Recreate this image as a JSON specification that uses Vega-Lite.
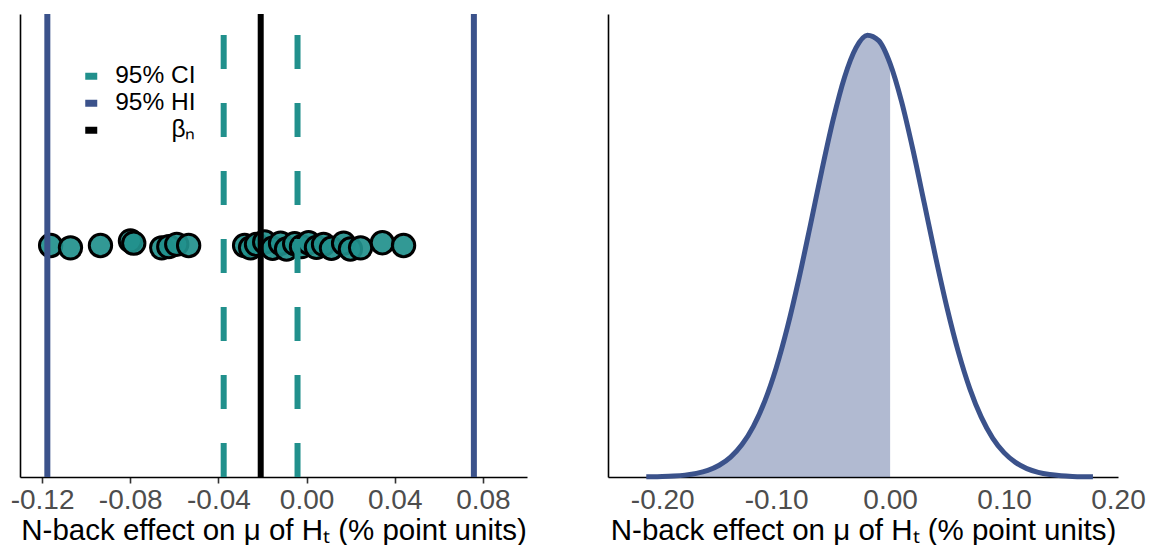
{
  "$schema": "https://vega.github.io/schema/vega-lite/v6.json",
  "padding": {"left": 10, "top": 11, "right": 0, "bottom": 0},
  "background": "white",
  "spacing": 81,
  "config": {
    "view": {"stroke": null},
    "font": "Liberation Sans",
    "axis": {"grid": false, "domainColor": "black", "domainWidth": 1.6, "labelFont": "Liberation Sans", "titleFont": "Liberation Sans"},
    "axisY": {"minExtent": 0},
    "axisX": {"minExtent": 0}
  },
  "datasets": {
    "pts": [
      {"x": -0.1161, "y": 0}, {"x": -0.1071, "y": -0.01}, {"x": -0.0935, "y": 0},
      {"x": -0.0799, "y": 0.02}, {"x": -0.0784, "y": 0.01}, {"x": -0.0657, "y": -0.01},
      {"x": -0.0625, "y": -0.005}, {"x": -0.0589, "y": 0.005}, {"x": -0.0535, "y": 0},
      {"x": -0.0281, "y": 0}, {"x": -0.0254, "y": -0.01}, {"x": -0.0227, "y": 0.005},
      {"x": -0.0190, "y": 0.015}, {"x": -0.0154, "y": -0.012}, {"x": -0.0118, "y": 0.01},
      {"x": -0.0091, "y": -0.015}, {"x": -0.0054, "y": 0.008}, {"x": -0.0023, "y": -0.005},
      {"x": 0.0009, "y": 0.012}, {"x": 0.0045, "y": -0.008}, {"x": 0.0077, "y": 0.005},
      {"x": 0.0113, "y": -0.012}, {"x": 0.0168, "y": 0.01}, {"x": 0.0199, "y": -0.015},
      {"x": 0.0245, "y": -0.01}, {"x": 0.0344, "y": 0.012}, {"x": 0.0440, "y": 0}
    ],
    "lines": [
      {"type": "95% CI", "x": -0.0376},
      {"type": "95% CI", "x": -0.0041},
      {"type": "95% HI", "x": -0.1176},
      {"type": "95% HI", "x": 0.0759},
      {"type": "βₙ", "x": -0.0208}
    ],
    "dens": [
      {"x": -0.214, "d": 0.000335}, {"x": -0.21, "d": 0.000464}, {"x": -0.20, "d": 0.00101},
      {"x": -0.19, "d": 0.002111}, {"x": -0.18, "d": 0.004233}, {"x": -0.17, "d": 0.00814},
      {"x": -0.16, "d": 0.01501}, {"x": -0.15, "d": 0.02655}, {"x": -0.14, "d": 0.04505},
      {"x": -0.13, "d": 0.0734}, {"x": -0.12, "d": 0.1146}, {"x": -0.11, "d": 0.1716},
      {"x": -0.10, "d": 0.2466}, {"x": -0.09, "d": 0.3398}, {"x": -0.08, "d": 0.4491},
      {"x": -0.07, "d": 0.5695}, {"x": -0.06, "d": 0.6926}, {"x": -0.05, "d": 0.808},
      {"x": -0.04, "d": 0.9041}, {"x": -0.03, "d": 0.9705}, {"x": -0.02, "d": 0.9992},
      {"x": -0.01, "d": 0.9868}, {"x": 0.0, "d": 0.9348}, {"x": 0.01, "d": 0.8494},
      {"x": 0.02, "d": 0.7403}, {"x": 0.03, "d": 0.6189}, {"x": 0.04, "d": 0.4963},
      {"x": 0.05, "d": 0.3818}, {"x": 0.06, "d": 0.2817}, {"x": 0.07, "d": 0.1993},
      {"x": 0.08, "d": 0.1353}, {"x": 0.09, "d": 0.08811}, {"x": 0.10, "d": 0.05504},
      {"x": 0.11, "d": 0.03298}, {"x": 0.12, "d": 0.01895}, {"x": 0.13, "d": 0.01044},
      {"x": 0.14, "d": 0.005521}, {"x": 0.15, "d": 0.002801}, {"x": 0.16, "d": 0.001362},
      {"x": 0.17, "d": 0.000636}, {"x": 0.178, "d": 0.000335}
    ]
  },
  "hconcat": [
    {
      "width": 507,
      "height": 463,
      "layer": [
        {
          "data": {"name": "pts"},
          "mark": {"type": "point", "shape": "circle", "filled": true, "size": 500, "fill": "#21908C", "fillOpacity": 0.92, "stroke": "black", "strokeWidth": 3, "opacity": 1},
          "encoding": {
            "x": {"field": "x", "type": "quantitative", "scale": {"domain": [-0.13, 0.10], "nice": false, "zero": false},
              "axis": {"values": [-0.12, -0.08, -0.04, 0, 0.04, 0.08], "format": ".2f", "labelExpr": "replace(datum.label, '−', '-')", "labelFontSize": 28, "labelColor": "#4D4D4D", "tickColor": "#333333", "tickWidth": 1.6, "tickSize": 6, "labelPadding": 3, "titleFontSize": 29.5, "titleFontWeight": "normal", "titleColor": "black", "titlePadding": 2, "labelFlush": false,
                "title": "N-back effect on μ of Hₜ (% point units)"}},
            "y": {"field": "y", "type": "quantitative", "scale": {"domain": [-1, 1], "nice": false, "zero": false},
              "axis": {"labels": false, "ticks": false, "title": null}}
          }
        },
        {
          "data": {"name": "lines"},
          "transform": [{"filter": "datum.type === '95% CI'"}],
          "mark": {"type": "rule", "strokeWidth": 6, "strokeDash": [34, 34], "strokeCap": "butt"},
          "encoding": {
            "x": {"field": "x", "type": "quantitative"},
            "y": {"datum": -1},
            "y2": {"datum": 1},
            "color": {"field": "type", "type": "nominal",
              "scale": {"domain": ["95% CI", "95% HI", "βₙ"], "range": ["#21908C", "#3B528B", "#000000"]},
              "legend": {"title": null, "orient": "none", "legendX": 59, "legendY": 50, "padding": 0,
                "symbolType": "M-1,0H1", "symbolSize": 144, "symbolStrokeWidth": 7, "symbolDash": [],
                "labelFontSize": 24.5, "labelColor": "black", "labelAlign": "right", "labelOffset": 92, "rowPadding": -6, "labelFont": "Liberation Sans"}}
          }
        },
        {
          "data": {"name": "lines"},
          "transform": [{"filter": "datum.type !== '95% CI'"}],
          "mark": {"type": "rule", "strokeWidth": 6, "strokeCap": "butt"},
          "encoding": {
            "x": {"field": "x", "type": "quantitative"},
            "y": {"datum": -1},
            "y2": {"datum": 1},
            "color": {"field": "type", "type": "nominal"}
          }
        }
      ]
    },
    {
      "width": 510,
      "height": 463,
      "data": {"name": "dens"},
      "layer": [
        {
          "transform": [{"filter": "datum.x <= 0"}],
          "mark": {"type": "area", "color": "#3B528B", "opacity": 0.4, "interpolate": "monotone"},
          "encoding": {
            "x": {"field": "x", "type": "quantitative"},
            "y": {"field": "d", "type": "quantitative"}
          }
        },
        {
          "mark": {"type": "line", "color": "#3B528B", "strokeWidth": 5, "interpolate": "monotone"},
          "encoding": {
            "x": {"field": "x", "type": "quantitative", "scale": {"domain": [-0.2476, 0.2], "nice": false, "zero": false},
              "axis": {"values": [-0.2, -0.1, 0, 0.1, 0.2], "format": ".2f", "labelExpr": "replace(datum.label, '−', '-')", "ticks": false, "labelFontSize": 28, "labelColor": "#4D4D4D", "labelPadding": 9, "titleFontSize": 29.5, "titleFontWeight": "normal", "titleColor": "black", "titlePadding": 2, "labelFlush": false,
                "title": "N-back effect on μ of Hₜ (% point units)"}},
            "y": {"field": "d", "type": "quantitative", "scale": {"domain": [0, 1.047], "nice": false, "zero": true},
              "axis": {"labels": false, "ticks": false, "title": null}}
          }
        }
      ]
    }
  ]
}
